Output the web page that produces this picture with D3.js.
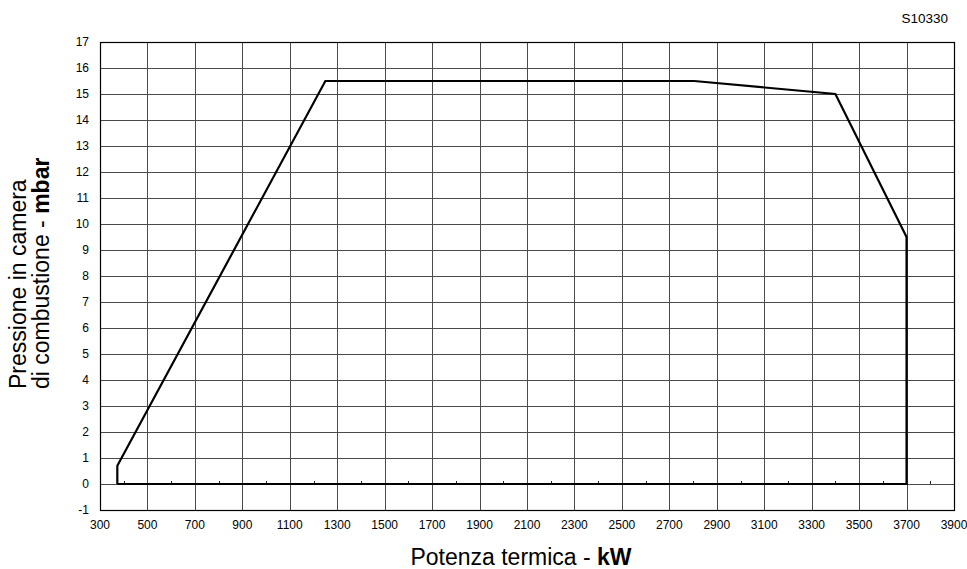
<!DOCTYPE html>
<html>
<head>
<meta charset="utf-8">
<script src="https://cdn.jsdelivr.net/npm/d3@7"></script>
<style>
  body { margin: 0; background: #fff; }
  svg { font-family: "Liberation Sans", Arial, sans-serif; }
</style>
</head>
<body>
<div id="chart"></div>
<script>
// working range of the burner (kW, mbar)
const powerKW = [373, 373, 1250, 2805, 3400, 3700, 3700, 373];
const pressureMbar = [0, 0.7, 15.5, 15.5, 15.0, 9.5, 0, 0];
const xTicks = d3.range(300, 3901, 200);
const yTicks = d3.range(-1, 18, 1);
const minorTicks = d3.range(400, 3900, 200);

const width = 967;
const height = 569;
const margin = { top: 42, right: 13, bottom: 59, left: 100 };

const svg = d3.select("#chart")
  .append("svg")
  .attr("width", width)
  .attr("height", height);

const x = d3.scaleLinear().domain([300, 3900]).range([margin.left, width - margin.right]);
const y = d3.scaleLinear().domain([-1, 17]).range([height - margin.bottom, margin.top]);

// grid
svg.append("g")
  .selectAll("line")
  .data(xTicks)
  .enter()
  .append("line")
  .attr("x1", (d) => Math.round(x(d)) + 0.5)
  .attr("x2", (d) => Math.round(x(d)) + 0.5)
  .attr("y1", y(-1))
  .attr("y2", y(17))
  .attr("stroke", "#4a4a4a")
  .attr("stroke-width", 1);

svg.append("g")
  .selectAll("line")
  .data(yTicks)
  .enter()
  .append("line")
  .attr("x1", x(300))
  .attr("x2", x(3900))
  .attr("y1", (d) => Math.round(y(d)) + 0.5)
  .attr("y2", (d) => Math.round(y(d)) + 0.5)
  .attr("stroke", "#4a4a4a")
  .attr("stroke-width", 1);

// small ticks on the zero line
svg.append("g")
  .selectAll("line")
  .data(minorTicks)
  .enter()
  .append("line")
  .attr("x1", (d) => Math.round(x(d)) + 0.5)
  .attr("x2", (d) => Math.round(x(d)) + 0.5)
  .attr("y1", Math.round(y(0)))
  .attr("y2", Math.round(y(0)) - 3)
  .attr("stroke", "#222")
  .attr("stroke-width", 1);

// frame
svg.append("rect")
  .attr("x", Math.round(x(300)) + 0.5)
  .attr("y", Math.round(y(17)) + 0.5)
  .attr("width", Math.round(x(3900)) - Math.round(x(300)))
  .attr("height", Math.round(y(-1)) - Math.round(y(17)))
  .attr("fill", "none")
  .attr("stroke", "#000")
  .attr("stroke-width", 1.2);

// tick labels
svg.append("g")
  .selectAll("text")
  .data(xTicks)
  .enter()
  .append("text")
  .attr("x", (d) => x(d))
  .attr("y", y(-1) + 19)
  .attr("text-anchor", "middle")
  .style("font-size", "12px")
  .text((d) => d);

svg.append("g")
  .selectAll("text")
  .data(yTicks)
  .enter()
  .append("text")
  .attr("x", x(300) - 11)
  .attr("y", (d) => y(d) + 4)
  .attr("text-anchor", "end")
  .style("font-size", "12px")
  .text((d) => d);

// curve
const line = d3.line()
  .x((d) => x(d[0]))
  .y((d) => y(d[1]));

svg.append("path")
  .datum(d3.zip(powerKW, pressureMbar))
  .attr("d", line)
  .attr("fill", "none")
  .attr("stroke", "#000")
  .attr("stroke-width", 2.2)
  .attr("stroke-linejoin", "miter");

// axis titles
const xTitle = svg.append("text")
  .attr("x", 521)
  .attr("y", 565)
  .attr("text-anchor", "middle")
  .style("font-size", "23px");
xTitle.append("tspan").text("Potenza termica - ");
xTitle.append("tspan").style("font-weight", "bold").text("kW");

svg.append("text")
  .attr("transform", "translate(26,389) rotate(-90)")
  .style("font-size", "23px")
  .text("Pressione in camera");

const yTitle2 = svg.append("text")
  .attr("transform", "translate(49,389) rotate(-90)")
  .style("font-size", "23px");
yTitle2.append("tspan").text("di combustione - ");
yTitle2.append("tspan").style("font-weight", "bold").text("mbar");

svg.append("text")
  .attr("x", 948)
  .attr("y", 23)
  .attr("text-anchor", "end")
  .style("font-size", "13.5px")
  .text("S10330");
</script>
</body>
</html>
